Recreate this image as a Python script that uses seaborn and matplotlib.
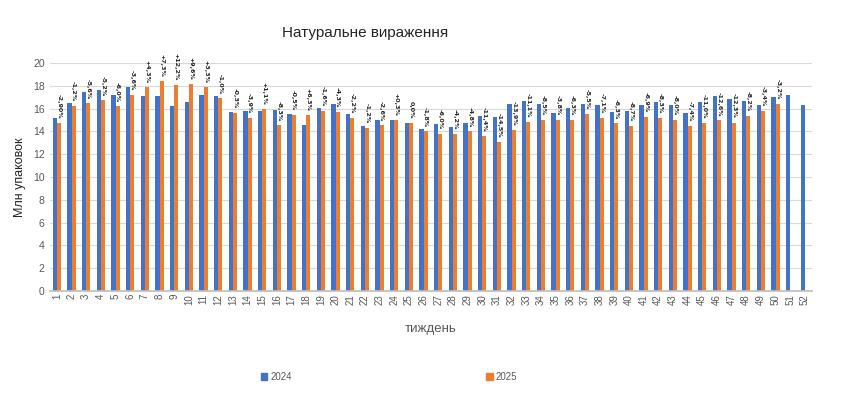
import numpy as np
import pandas as pd
import matplotlib
matplotlib.use("Agg")
import matplotlib.pyplot as plt
import seaborn as sns

weeks = [str(i) for i in range(1, 53)]

values_2024 = [15.16, 16.52, 17.45, 17.59, 17.22, 17.86, 17.13, 17.13, 16.20, 16.58,
               17.22, 17.07, 15.71, 15.80, 15.80, 15.86, 15.57, 14.55, 16.06, 16.43,
               15.51, 14.49, 14.96, 14.96, 14.72, 14.23, 14.64, 14.41, 14.72, 15.33,
               15.28, 16.43, 16.67, 16.43, 15.59, 16.06, 16.43, 16.35, 15.74, 15.80,
               16.35, 16.58, 16.35, 15.65, 16.58, 17.07, 16.84, 16.67, 16.35, 16.99,
               17.22, 16.29]

values_2025 = [14.78, 16.26, 16.49, 16.72, 16.20, 17.22, 17.86, 18.41, 18.09, 18.14,
               17.86, 16.93, 15.65, 15.19, 15.97, 14.55, 15.48, 15.42, 15.80, 15.71,
               15.19, 14.32, 14.55, 14.96, 14.72, 14.00, 13.80, 13.80, 14.00, 13.62,
               13.07, 14.14, 14.81, 15.04, 15.04, 15.04, 15.57, 15.19, 14.72, 14.49,
               15.28, 15.19, 15.01, 14.49, 14.78, 14.96, 14.78, 15.36, 15.80, 16.43,
               np.nan, np.nan]

change_labels = ["-2,90%", "-1,2%", "-5,6%", "-5,2%", "-6,0%", "-3,6%", "+4,3%", "+7,3%",
                 "+12,2%", "+9,6%", "+3,3%", "-1,0%", "-0,3%", "-3,9%", "+1,1%", "-8,3%",
                 "-0,5%", "+6,3%", "-1,6%", "-4,3%", "-2,2%", "-1,2%", "-2,6%", "+0,3%",
                 "0,0%", "-1,8%", "-6,0%", "-4,2%", "-4,8%", "-11,4%", "-14,5%", "-13,9%",
                 "-11,1%", "-8,5%", "-3,8%", "-6,3%", "-5,5%", "-7,1%", "-6,3%", "-8,7%",
                 "-6,9%", "-8,3%", "-8,0%", "-7,4%", "-11,0%", "-12,6%", "-12,3%", "-8,2%",
                 "-3,4%", "-3,2%"]

years = ["2024", "2025"]
colors = ["#4472C4", "#ED7D31"]

df = pd.DataFrame({
    "week": weeks * 2,
    "year": [years[0]] * 52 + [years[1]] * 52,
    "value": values_2024 + values_2025,
})

sns.set_theme(style="white")
plt.rcParams["font.family"] = ["Liberation Sans", "DejaVu Sans"]

fig = plt.figure(figsize=(8.5, 3.93), dpi=100)
ax = fig.add_axes([49.5 / 850, 1 - 291 / 393, (812.3 - 49.5) / 850, (291 - 63) / 393])

sns.barplot(data=df, x="week", y="value", hue="year", order=weeks, hue_order=years,
            palette=colors, width=0.57, ax=ax, legend=False, saturation=1,
            errorbar=None, linewidth=0)

ax.set_xlim(-0.5, 51.5)
ax.set_ylim(0, 20)
ax.set_yticks(range(0, 21, 2))
ax.yaxis.grid(True, color="#D9D9D9", linewidth=0.8)
ax.set_axisbelow(True)
for s in ["top", "right", "left"]:
    ax.spines[s].set_visible(False)
ax.spines["bottom"].set_color("#BFBFBF")
ax.tick_params(axis="both", length=0, colors="#595959", labelsize=7.5)
ax.tick_params(axis="x", rotation=90, labelsize=7, pad=2)
ax.set_xlabel("тиждень", fontsize=9.5, color="#595959", labelpad=13)
ax.set_ylabel("Млн упаковок", fontsize=9, color="#262626", labelpad=5)

# percentage labels above 2025 bars
cont = ax.containers[1]
for patch, lab in zip(cont.patches, change_labels):
    h = patch.get_height()
    if np.isnan(h):
        continue
    ax.annotate(lab, (patch.get_x() + patch.get_width() / 2, h),
                xytext=(0, 3), textcoords="offset points",
                ha="center", va="bottom", rotation=-90, fontsize=4.6,
                fontweight="bold", color="#262626",
                family=["Liberation Sans Narrow", "DejaVu Sans"])

fig.text(365 / 850, 1 - 33 / 393, "Натуральне вираження", ha="center", va="center",
         fontsize=11, color="#262626")

handles = [plt.Rectangle((0, 0), 1, 1, color=c) for c in colors]
fig.legend(handles, years, loc="center", bbox_to_anchor=(389 / 850, 1 - 377 / 393),
           ncol=2, frameon=False, fontsize=7, handlelength=0.7, handleheight=0.7,
           handletextpad=0.3, columnspacing=20, labelcolor="#595959")

fig.savefig("out.png", dpi=100)
